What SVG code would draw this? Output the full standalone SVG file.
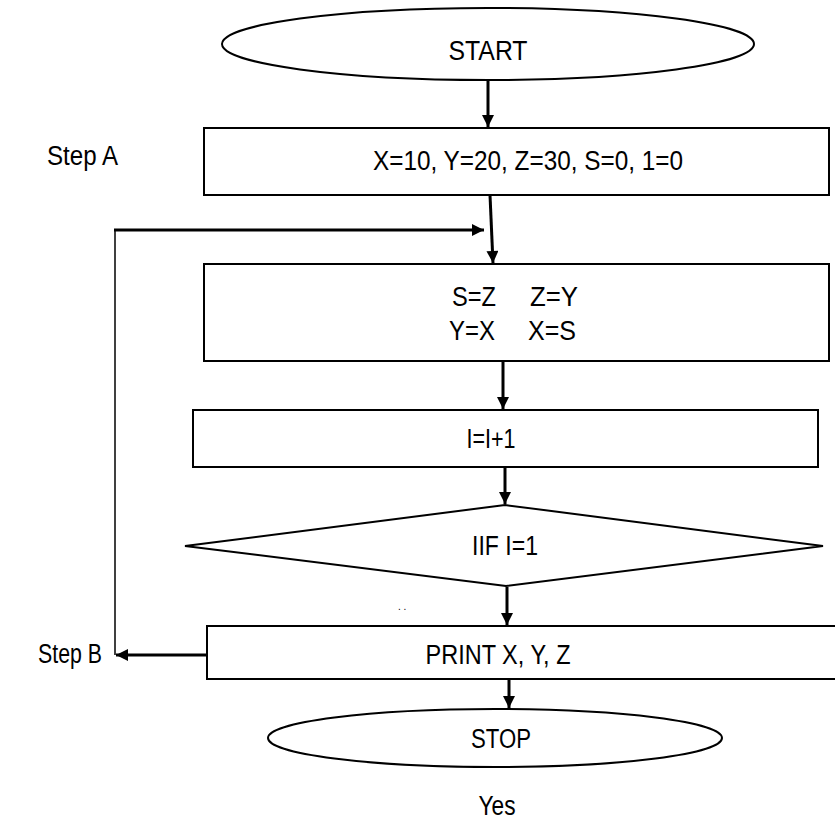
<svg xmlns="http://www.w3.org/2000/svg" width="835" height="832" viewBox="0 0 835 832">
<defs>
<style>
.s{fill:#fff;stroke:#000;stroke-width:2}
.t{font-family:"Liberation Sans",Arial,sans-serif;font-size:27px;fill:#000;text-anchor:middle}
.l{text-anchor:start}
.c{fill:none;stroke:#000;stroke-width:3}
.th{fill:none;stroke:#000;stroke-width:1.5}
</style>
<marker id="ah" viewBox="0 0 10 10" refX="10" refY="5" markerWidth="4.5" markerHeight="4" orient="auto" markerUnits="strokeWidth">
<path d="M0,0 L10,5 L0,10 z" fill="#000"/>
</marker>
</defs>
<rect width="835" height="832" fill="#fff"/>
<g id="start"><ellipse class="s" cx="488" cy="44" rx="266" ry="36"/><text class="t" x="488" y="60" textLength="79" lengthAdjust="spacingAndGlyphs">START</text></g>
<g id="stepA"><rect class="s" x="204" y="128" width="625" height="67"/><text class="t" x="528" y="170" textLength="310" lengthAdjust="spacingAndGlyphs">X=10, Y=20, Z=30, S=0, 1=0</text></g>
<g id="swap"><rect class="s" x="204" y="264" width="625" height="97"/><text class="t" x="474" y="306" textLength="44" lengthAdjust="spacingAndGlyphs">S=Z</text><text class="t" x="554" y="306" textLength="48" lengthAdjust="spacingAndGlyphs">Z=Y</text><text class="t" x="472" y="340" textLength="46" lengthAdjust="spacingAndGlyphs">Y=X</text><text class="t" x="552" y="340" textLength="48" lengthAdjust="spacingAndGlyphs">X=S</text></g>
<g id="incr"><rect class="s" x="193" y="410" width="625" height="57"/><text class="t" x="491" y="448" textLength="49" lengthAdjust="spacingAndGlyphs">I=I+1</text></g>
<g id="cond"><polygon class="s" points="505,505 823,546 506,586 185,546"/><text class="t" x="505" y="555" textLength="66" lengthAdjust="spacingAndGlyphs">IIF I=1</text></g>
<g id="print"><rect class="s" x="207" y="626" width="640" height="53"/><text class="t" x="498" y="664" textLength="145" lengthAdjust="spacingAndGlyphs">PRINT X, Y, Z</text></g>
<g id="stop"><ellipse class="s" cx="495" cy="738" rx="227" ry="29"/><text class="t" x="501" y="748" textLength="60" lengthAdjust="spacingAndGlyphs">STOP</text></g>
<g id="labels">
<text class="t l" x="47" y="165" textLength="71" lengthAdjust="spacingAndGlyphs">Step A</text>
<text class="t l" x="38" y="663" textLength="64" lengthAdjust="spacingAndGlyphs">Step B</text>
<text class="t" x="497" y="815" textLength="37" lengthAdjust="spacingAndGlyphs">Yes</text>
<text class="t l" x="398" y="610" style="font-size:10px">. .</text>
</g>
<g id="connectors">
<line class="c" x1="488" y1="80" x2="488" y2="127" marker-end="url(#ah)"/>
<line class="c" x1="490" y1="195" x2="493" y2="263" marker-end="url(#ah)"/>
<polyline class="th" points="115,655 115,230"/>
<line class="c" x1="114" y1="230" x2="484" y2="230" marker-end="url(#ah)"/>
<line class="c" x1="503" y1="361" x2="503" y2="409" marker-end="url(#ah)"/>
<line class="c" x1="505" y1="467" x2="505" y2="504" marker-end="url(#ah)"/>
<line class="c" x1="507" y1="587" x2="507" y2="625" marker-end="url(#ah)"/>
<line class="c" x1="207" y1="655" x2="116" y2="655" marker-end="url(#ah)"/>
<line class="c" x1="509" y1="679" x2="509" y2="708" marker-end="url(#ah)"/>
</g>
</svg>
